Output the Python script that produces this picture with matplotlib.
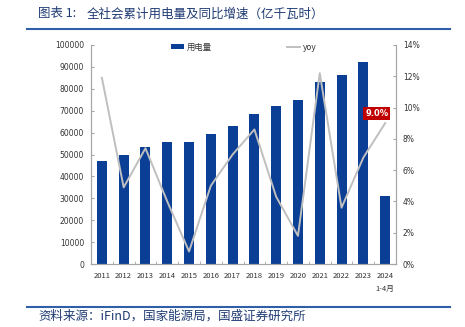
import matplotlib.pyplot as plt
from matplotlib.ticker import FuncFormatter

plt.rcParams['font.family'] = ['DejaVu Sans', 'Noto Sans CJK SC']

# data
years = ['2011', '2012', '2013', '2014', '2015', '2016', '2017', '2018',
         '2019', '2020', '2021', '2022', '2023', '2024\n1-4月']
usage = [47000, 49600, 53400, 55600, 55500, 59200, 63100, 68400,
         72300, 75100, 83100, 86400, 92200, 30900]
yoy = [11.9, 4.9, 7.4, 4.0, 0.8, 5.0, 7.0, 8.6, 4.3, 1.8, 12.2, 3.6, 6.8, 9.0]

bar_color = '#0b3f96'
line_color = '#bfbfbf'
axis_color = '#a6a6a6'
text_color = '#333333'
head_color = '#1f3b73'
rule_color = '#2f5fa7'
cjk = ['Noto Sans CJK SC', 'DejaVu Sans']

fig = plt.figure(figsize=(4.65, 3.27), dpi=100)
ax = fig.add_axes([91 / 465, 1 - 264 / 327, 305 / 465, 219 / 327])
ax2 = ax.twinx()

x = list(range(len(years)))
bars = ax.bar(x, usage, width=0.46, color=bar_color, label='用电量', zorder=2)
line, = ax2.plot(x, yoy, color=line_color, lw=1.4, label='yoy', zorder=3)

ax.set_xlim(-0.5, len(years) - 0.5)
ax.set_ylim(0, 100000)
ax.set_yticks(range(0, 100001, 10000))
ax2.set_ylim(0, 14)
ax2.set_yticks(range(0, 15, 2))
ax2.yaxis.set_major_formatter(FuncFormatter(lambda v, p: f'{v:.0f}%'))

ax.set_xticks(x)
ax.set_xticklabels(years, family=cjk, fontsize=5.5, color=text_color, linespacing=1.7)
ax.set_xticks([i + 0.5 for i in x[:-1]], minor=True)
ax.tick_params(axis='x', which='major', length=0, pad=6)
ax.tick_params(axis='x', which='minor', length=2.5, direction='in', color=axis_color)
ax.tick_params(axis='y', length=2.5, direction='in', color=axis_color,
               labelsize=5.5, labelcolor=text_color, pad=5)
ax2.tick_params(axis='y', length=2.5, direction='in', color=axis_color,
                labelsize=5.5, labelcolor=text_color, pad=5)

for a in (ax, ax2):
    a.spines['top'].set_visible(False)
    for s in ('left', 'right', 'bottom'):
        a.spines[s].set_color(axis_color)
        a.spines[s].set_linewidth(0.8)

# last-value label
ax2.annotate(f'{yoy[-1]:.1f}%', xy=(x[-1], yoy[-1]), xytext=(-6, 7),
             textcoords='offset points', ha='center', va='center',
             fontsize=6, fontweight='bold', color='white',
             bbox=dict(boxstyle='square,pad=0.25', fc='#c00000', ec='none'),
             zorder=5)

leg = ax.legend([bars, line], ['用电量', 'yoy'], loc='center',
                bbox_to_anchor=(0.5, 1 - 1 / 219 * 2), ncol=2, frameon=False,
                prop={'family': cjk, 'size': 6}, handlelength=1.6,
                handleheight=0.5, columnspacing=9, handletextpad=0.3)
for t in leg.get_texts():
    t.set_color(text_color)

# header and footer
fig.text(38 / 465, 1 - 14 / 327, '图表 1:', family=cjk, fontsize=9,
         color=head_color, va='center')
fig.text(87 / 465, 1 - 14 / 327, '全社会累计用电量及同比增速（亿千瓦时）',
         family=cjk, fontsize=9, color=head_color, va='center')
fig.add_artist(plt.Line2D([27 / 465, 450 / 465], [1 - 29 / 327] * 2,
                          color=rule_color, lw=1.5))
fig.add_artist(plt.Line2D([27 / 465, 450 / 465], [1 - 307 / 327] * 2,
                          color=rule_color, lw=1.5))
fig.text(38 / 465, 1 - 316 / 327, '资料来源：iFinD，国家能源局，国盛证券研究所',
         family=cjk, fontsize=9, color=head_color, va='center')

fig.savefig('out.png', dpi=100)
